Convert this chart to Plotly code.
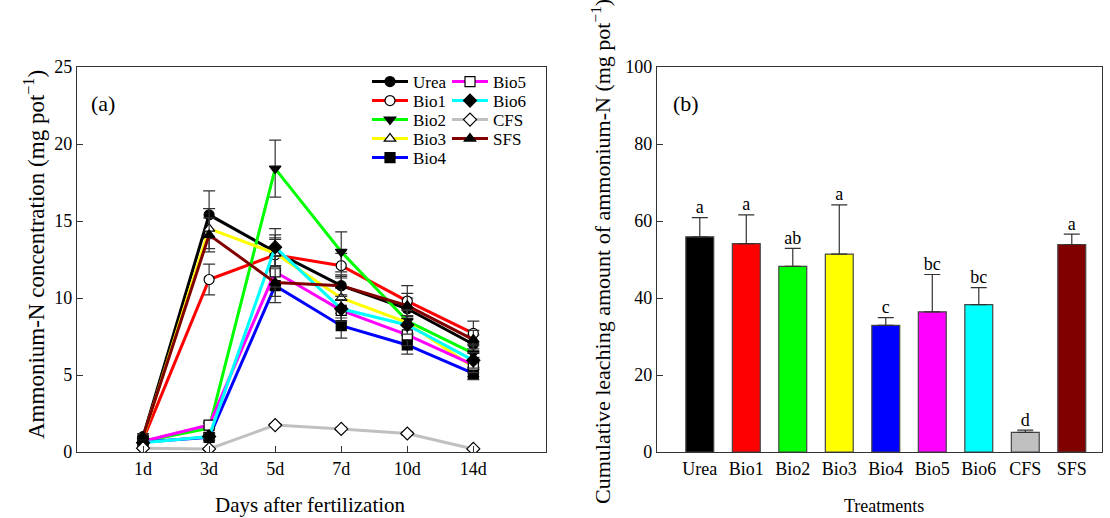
import plotly.graph_objects as go

# ---------------- data ----------------
days = ["1d", "3d", "5d", "7d", "10d", "14d"]

series_names = ["Urea", "Bio1", "Bio2", "Bio3", "Bio4", "Bio5", "Bio6", "CFS", "SFS"]
urea = [1.0, 15.4, 13.0, 10.8, 9.3, 7.0]
bio1 = [0.8, 11.2, 12.8, 12.1, 9.8, 7.7]
bio2 = [0.7, 1.55, 18.4, 13.0, 8.5, 6.4]
bio3 = [0.9, 14.5, 12.9, 10.0, 8.4, 5.5]
bio4 = [0.65, 0.95, 10.8, 8.2, 6.95, 5.1]
bio5 = [0.7, 1.75, 11.7, 9.2, 7.6, 5.65]
bio6 = [0.6, 1.0, 13.3, 9.3, 8.25, 5.95]
cfs = [0.25, 0.2, 1.75, 1.5, 1.2, 0.2]
sfs = [1.0, 14.1, 11.0, 10.8, 9.5, 7.3]

urea_se = [0.2, 1.55, 0.9, 0.6, 0.7, 0.6]
bio1_se = [0.15, 1.0, 1.0, 0.8, 1.0, 0.8]
bio2_se = [0.1, 0.3, 1.85, 1.3, 0.8, 0.6]
bio3_se = [0.2, 1.3, 1.2, 0.7, 0.8, 0.6]
bio4_se = [0.1, 0.2, 1.1, 0.8, 0.6, 0.4]
bio5_se = [0.1, 0.2, 1.0, 0.7, 0.7, 0.5]
bio6_se = [0.1, 0.2, 1.2, 0.6, 0.6, 0.5]
cfs_se = [0.05, 0.05, 0.1, 0.1, 0.1, 0.05]
sfs_se = [0.2, 1.1, 0.9, 0.7, 0.8, 0.6]

treatments = ["Urea", "Bio1", "Bio2", "Bio3", "Bio4", "Bio5", "Bio6", "CFS", "SFS"]
cumulative = [55.9, 54.1, 48.2, 51.4, 32.9, 36.4, 38.3, 5.1, 53.9]
cumulative_se = [5.0, 7.5, 4.7, 12.8, 2.0, 9.7, 4.4, 0.6, 2.7]
letters = ["a", "a", "ab", "a", "c", "bc", "bc", "d", "a"]

# ---------------- styles ----------------
values = [urea, bio1, bio2, bio3, bio4, bio5, bio6, cfs, sfs]
errors = [urea_se, bio1_se, bio2_se, bio3_se, bio4_se, bio5_se, bio6_se, cfs_se, sfs_se]
line_colors = ["#000000", "#FF0000", "#00FF00", "#FFFF00", "#0000FF",
               "#FF00FF", "#00FFFF", "#C0C0C0", "#800000"]
symbols = ["circle", "circle", "triangle-down", "triangle-up", "square",
           "square", "diamond", "diamond", "triangle-up"]
fills = ["black", "white", "black", "white", "black", "white", "black", "white", "black"]

FONT = "Liberation Serif"
AX = "#333333"
W, H = 1110, 518

fig = go.Figure()

legend_layouts = {}
for i, (name, v, e, lc, sym, fc) in enumerate(zip(series_names, values, errors,
                                                  line_colors, symbols, fills)):
    lid = "legend" if i == 0 else f"legend{i + 1}"
    col, row = (0, i) if i < 5 else (1, i - 5)
    lx = (367 if col == 0 else 447) / W
    ly = (H - (82 + 19 * row)) / H
    legend_layouts[lid] = dict(x=lx, y=ly, xanchor="left", yanchor="middle",
                               bgcolor="rgba(0,0,0,0)",
                               font=dict(family=FONT, size=17, color="black"),
                               itemwidth=36)
    fig.add_trace(go.Scatter(
        x=days, y=v, name=name, mode="lines+markers",
        line=dict(color=lc, width=3),
        marker=dict(symbol=sym, size=10, color=fc, line=dict(color="black", width=1.2)),
        error_y=dict(type="data", array=e, visible=True, color=AX, thickness=1.2, width=6),
        xaxis="x", yaxis="y", legend=lid,
    ))

fig.add_trace(go.Bar(
    x=treatments, y=cumulative, width=0.6,
    marker=dict(color=line_colors, line=dict(color="#444444", width=1.2)),
    error_y=dict(type="data", array=cumulative_se, symmetric=False,
                 arrayminus=[0] * len(cumulative_se), visible=True,
                 color=AX, thickness=1.2, width=8),
    xaxis="x2", yaxis="y2", showlegend=False,
))

fig.add_trace(go.Scatter(
    x=treatments, y=[m + s for m, s in zip(cumulative, cumulative_se)],
    mode="text", text=letters, textposition="top center",
    textfont=dict(family=FONT, size=18, color="black"),
    xaxis="x2", yaxis="y2", showlegend=False, cliponaxis=False,
))

ydom = [(H - 452) / H, (H - 67) / H]

axis_common = dict(showline=True, linecolor=AX, linewidth=1.2, mirror=True,
                   showgrid=False, zeroline=False, ticks="inside", tickcolor=AX,
                   ticklen=6, tickfont=dict(family=FONT, size=18, color="black"),
                   automargin=False)

fig.update_layout(
    width=W, height=H, margin=dict(l=0, r=0, t=0, b=0),
    paper_bgcolor="white", plot_bgcolor="white",
    font=dict(family=FONT, color="black"),
    xaxis=dict(domain=[77 / W, 546 / W], type="category", range=[-1, 6.1],
               anchor="y", **axis_common),
    yaxis=dict(domain=ydom, range=[0, 25], tickvals=[0, 5, 10, 15, 20, 25],
               anchor="x", **axis_common),
    xaxis2=dict(domain=[657 / W, 1102 / W], type="category", range=[-0.92, 8.65],
                anchor="y2", **{**axis_common, "ticks": ""}),
    yaxis2=dict(domain=ydom, range=[0, 100], tickvals=[0, 20, 40, 60, 80, 100],
                anchor="x2", **axis_common),
    showlegend=True,
    bargap=0.4,
    **legend_layouts,
)

annotations = [
    dict(text="(a)", x=89 / W, y=(H - 103) / H, xref="paper", yref="paper",
         xanchor="left", yanchor="middle", showarrow=False,
         font=dict(family=FONT, size=22)),
    dict(text="(b)", x=671 / W, y=(H - 103) / H, xref="paper", yref="paper",
         xanchor="left", yanchor="middle", showarrow=False,
         font=dict(family=FONT, size=22)),
    dict(text="Ammonium-N concentration (mg pot<sup>\u22121</sup>)", x=34 / W,
         y=(H - 255) / H, xref="paper", yref="paper", textangle=-90,
         xanchor="center", yanchor="middle", showarrow=False,
         font=dict(family=FONT, size=23)),
    dict(text="Days after fertilization", x=310 / W, y=(H - 505) / H,
         xref="paper", yref="paper", xanchor="center", yanchor="middle",
         showarrow=False, font=dict(family=FONT, size=21)),
    dict(text="Cumulative leaching amount of ammonium-N (mg pot<sup>\u22121</sup>)",
         x=601 / W, y=(H - 252) / H, xref="paper", yref="paper", textangle=-90,
         xanchor="center", yanchor="middle", showarrow=False,
         font=dict(family=FONT, size=22)),
    dict(text="Treatments", x=884 / W, y=(H - 506) / H, xref="paper", yref="paper",
         xanchor="center", yanchor="middle", showarrow=False,
         font=dict(family=FONT, size=18)),
]
fig.update_layout(annotations=annotations)

fig.write_html("out.html")
